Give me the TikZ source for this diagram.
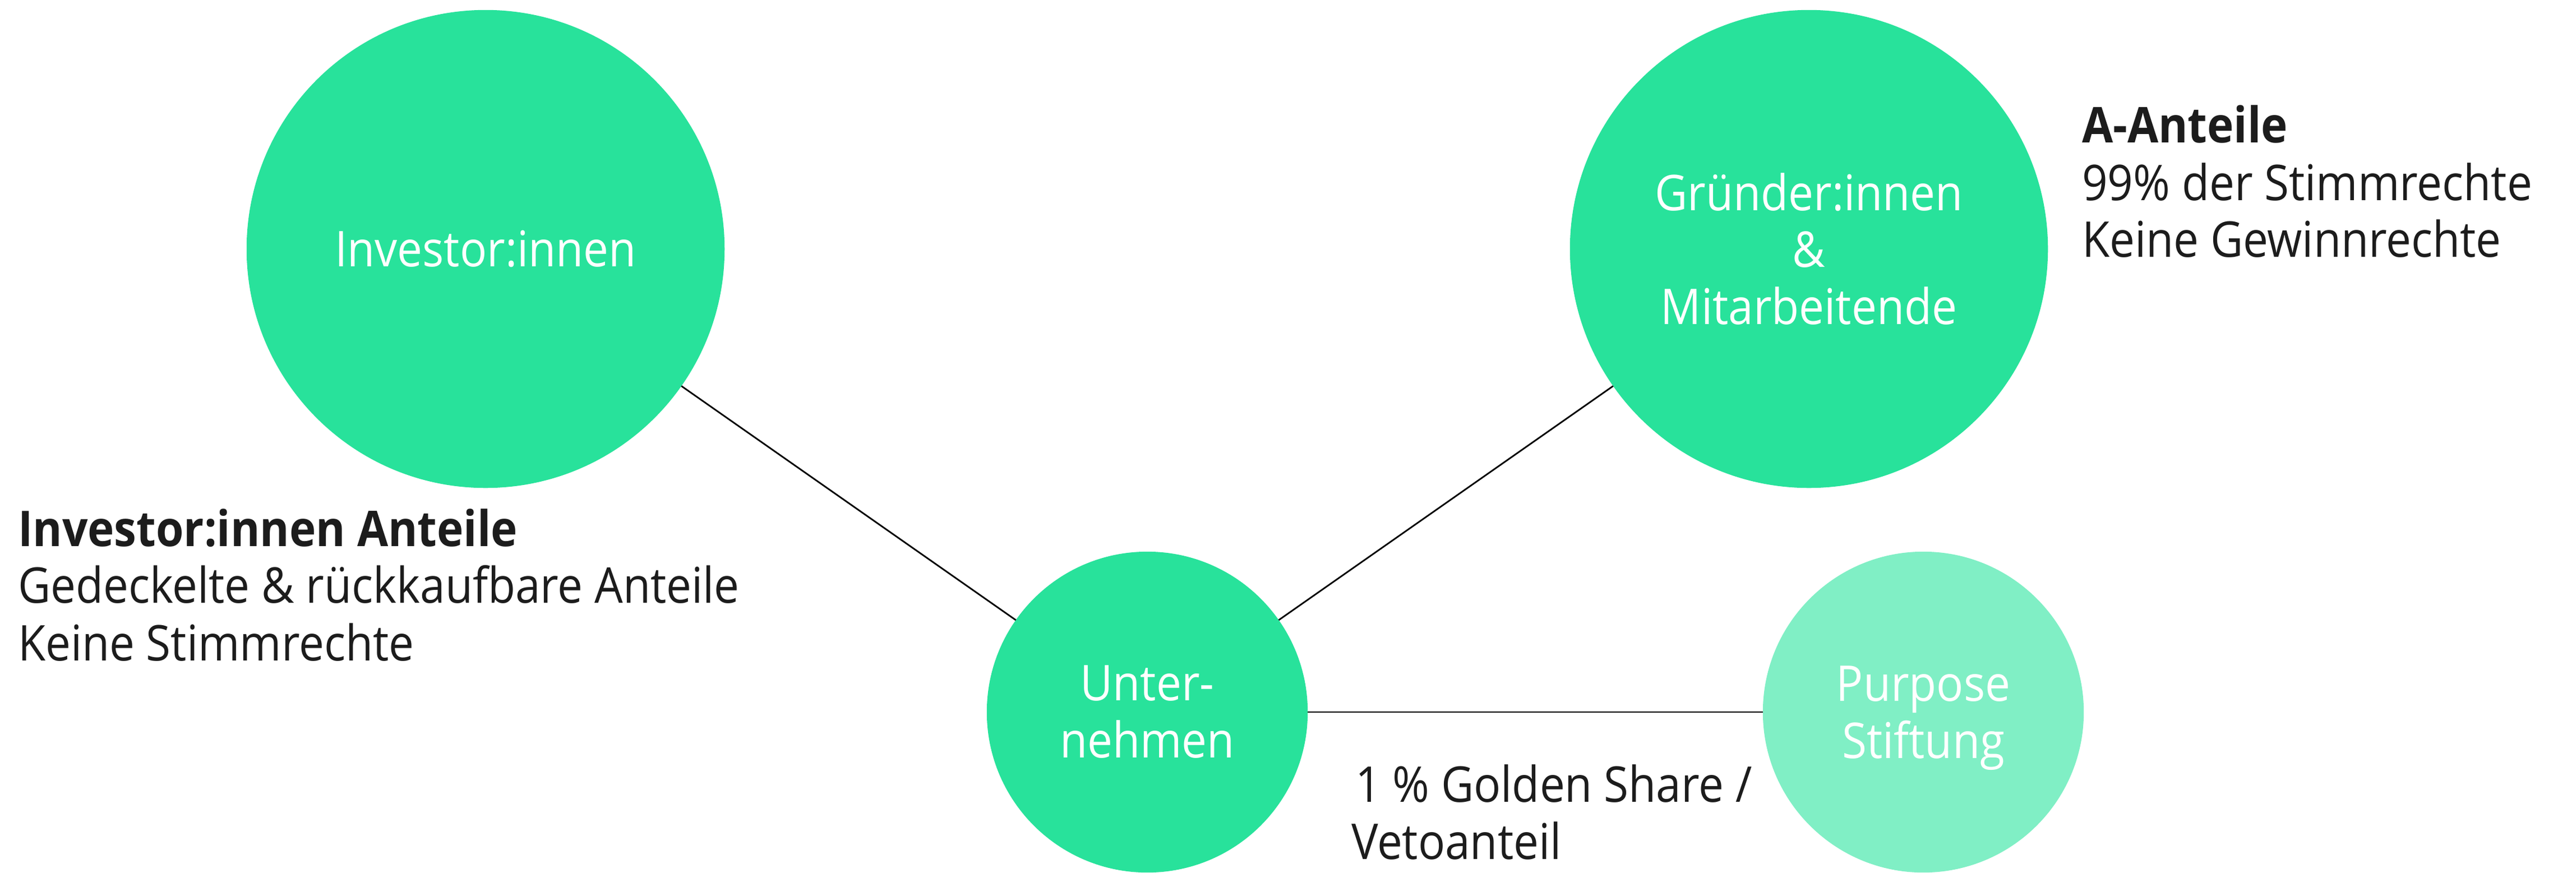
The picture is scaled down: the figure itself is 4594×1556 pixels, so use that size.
\documentclass[tikz,border=0pt]{standalone}
\usepackage{fontspec}
\setmainfont[FakeStretch=0.91]{Open Sans}
\definecolor{maingreen}{HTML}{28E29B}
\definecolor{lightgreen}{HTML}{80EFC5}
\definecolor{textdark}{HTML}{1C1C1C}
\begin{document}
\begin{tikzpicture}[x=0.01cm,y=-0.01cm,
  bubble/.style={circle,fill=maingreen,draw=none,inner sep=0pt,outer sep=0pt,
    text=white,align=center,font=\fontsize{25pt}{29pt}\selectfont},
  lightbubble/.style={bubble,fill=lightgreen},
  txt/.style={anchor=base west,inner sep=0pt,outer sep=0pt,text=textdark,
    font=\fontsize{25pt}{29pt}\selectfont},
  btxt/.style={txt,font=\fontsize{25pt}{29pt}\selectfont\bfseries},
  conn/.style={draw=black,line width=0.8pt}]
\useasboundingbox (0,0) rectangle (4594,1556);
\clip (0,0) rectangle (4594,1556);
\node[bubble,minimum size=8.52cm] (inv) at (866,444) {Investor:innen};
\node[bubble,minimum size=8.52cm] (gru) at (3226,444) {Gründer:innen\\\&\\Mitarbeitende};
\node[bubble,minimum size=5.72cm] (unt) at (2046,1270) {Unter-\\nehmen};
\node[lightbubble,minimum size=5.72cm] (pur) at (3430,1270) {Purpose\\\smash{Stiftung}};
\draw[conn] (inv) -- (unt);
\draw[conn] (gru) -- (unt);
\draw[conn] (unt) -- (pur);
\node[btxt] (l1) at (32,974) {Investor:innen Anteile};
\node[txt] (l2) at (32,1075) {Gedeckelte \& rückkaufbare Anteile};
\node[txt] (l3) at (32,1178) {Keine Stimmrechte};
\node[btxt] (r1) at (3713,254) {A-Anteile};
\node[txt] (r2) at (3713,357) {99\% der Stimmrechte};
\node[txt] (r3) at (3713,458) {Keine Gewinnrechte};
\node[txt] (g1) at (2417,1430) {1 \% Golden Share /};
\node[txt] (g2) at (2410,1532) {Vetoanteil};
\end{tikzpicture}
\end{document}
